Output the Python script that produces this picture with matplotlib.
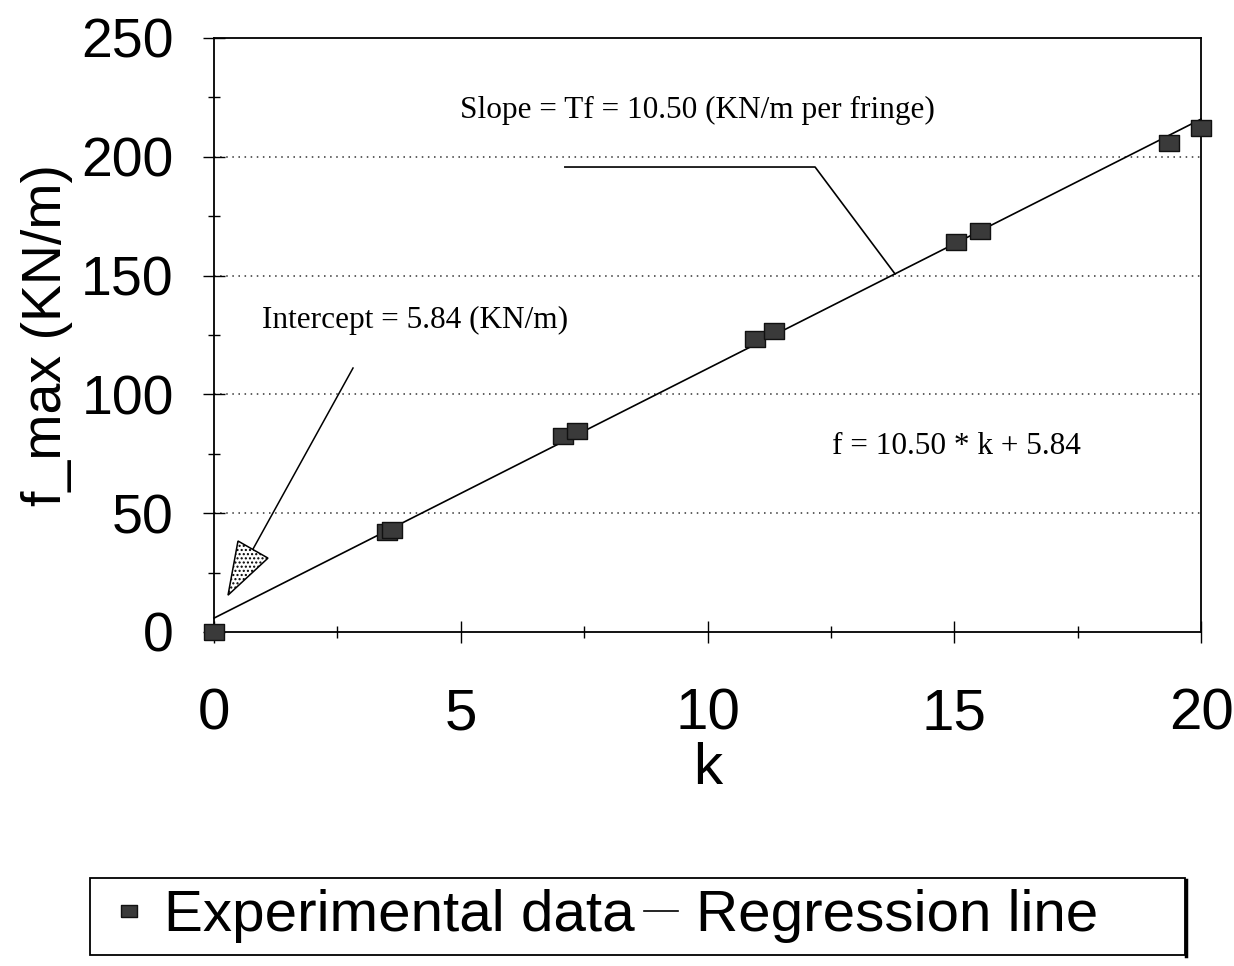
import matplotlib
matplotlib.use("Agg")
import matplotlib.pyplot as plt
from matplotlib.patches import Polygon, Rectangle
from matplotlib.lines import Line2D
from matplotlib.ticker import MultipleLocator

# Measured fringe orders and peak loads
k_values = [0.0, 3.5, 3.6, 7.07, 7.36, 10.96, 11.35, 15.03, 15.52, 19.35, 20.0]
f_max_values = [0.0, 42.0, 43.0, 82.5, 84.6, 123.3, 126.7, 164.1, 168.8, 205.8, 212.1]

# Least-squares fit parameters
slope = 10.50
intercept = 5.84
fit_k = [0.0, 20.0]

x_ticks = [0, 5, 10, 15, 20]
y_ticks = [0, 50, 100, 150, 200, 250]

sans = ["Liberation Sans", "DejaVu Sans"]
serif = ["Liberation Serif", "DejaVu Serif"]

W, H = 1234, 966
fig = plt.figure(figsize=(W / 100, H / 100), dpi=100)
ax = fig.add_axes([214 / W, 1 - 632 / H, (1201 - 214) / W, (632 - 38) / H])

fit_f = [slope * k + intercept for k in fit_k]
rect = [(-1.3, -1), (1.3, -1), (1.3, 1), (-1.3, 1), (-1.3, -1)]
pts, = ax.plot(k_values, f_max_values, linestyle="none", marker=rect, markersize=15,
               markerfacecolor="#3a3a3a", markeredgecolor="#111111", markeredgewidth=1,
               zorder=4, clip_on=False, label="Experimental data")
reg, = ax.plot(fit_k, fit_f, color="black", linewidth=1.2, zorder=3,
               clip_on=False, label="Regression line")

ax.set_xlim(0, 20)
ax.set_ylim(0, 250)
ax.set_xticks(x_ticks)
ax.set_yticks(y_ticks)
ax.xaxis.set_minor_locator(MultipleLocator(2.5))
ax.yaxis.set_minor_locator(MultipleLocator(25))
ax.tick_params(which="major", direction="inout", length=16, width=1,
               top=False, right=False)
ax.tick_params(which="minor", direction="inout", length=9, width=1,
               top=False, right=False)
ax.tick_params(axis="x", which="major", pad=32, labelsize=42)
ax.tick_params(axis="y", which="major", pad=21, labelsize=40)
for lab in ax.get_xticklabels() + ax.get_yticklabels():
    lab.set_family(sans)

for s in ax.spines.values():
    s.set_linewidth(1.3)

for y in [50, 100, 150, 200]:
    ax.axhline(y, color="#333333", linewidth=1.1, linestyle=(0, (1, 3)), zorder=1)

ax.set_xlabel("k", fontsize=42, family=sans, labelpad=0)
ax.set_ylabel("f_max (KN/m)", fontsize=40, family=sans, labelpad=6)

# Annotations
ax.text(4.98, 219.7, "Slope = Tf = 10.50 (KN/m per fringe)", fontsize=22.5,
        family=serif, va="center", ha="left")
ax.plot([7.11, 12.18, 13.80], [195.7, 195.7, 150.7], color="black", linewidth=1.2, zorder=3)

ax.text(0.97, 131.3, "Intercept = 5.84 (KN/m)", fontsize=22.5, family=serif,
        va="center", ha="left")
ax.plot([2.817, 0.79], [111.1, 34.9], color="black", linewidth=1.1, zorder=3)
tri = Polygon([(0.284, 15.5), (0.486, 38.3), (1.094, 31.1)], closed=True,
              facecolor="white", edgecolor="black", linewidth=1.1, hatch="....", zorder=3)
ax.add_patch(tri)

ax.text(12.52, 77.9, "f = 10.50 * k + 5.84", fontsize=22.5, family=serif,
        va="center", ha="left")

# Legend below the plot, with its own frame
leg = fig.legend(handles=[pts, reg], loc="center left",
                 bbox_to_anchor=(112 / W, 1 - 916 / H),
                 ncol=2, frameon=False,
                 handlelength=0.58, handletextpad=0.32, columnspacing=0.15,
                 borderpad=0.0, borderaxespad=0.0, markerscale=0.75,
                 prop={"family": sans, "size": 42})
fig.patches.append(Rectangle((90 / W, 1 - 955 / H), (1185 - 90) / W, (955 - 878) / H,
                             transform=fig.transFigure, fill=False,
                             edgecolor="black", linewidth=1.3))
fig.lines.append(Line2D([1186 / W, 1186 / W], [1 - 956 / H, 1 - 880 / H],
                        transform=fig.transFigure, color="black", linewidth=2.5))

fig.savefig("out.png", dpi=100)
